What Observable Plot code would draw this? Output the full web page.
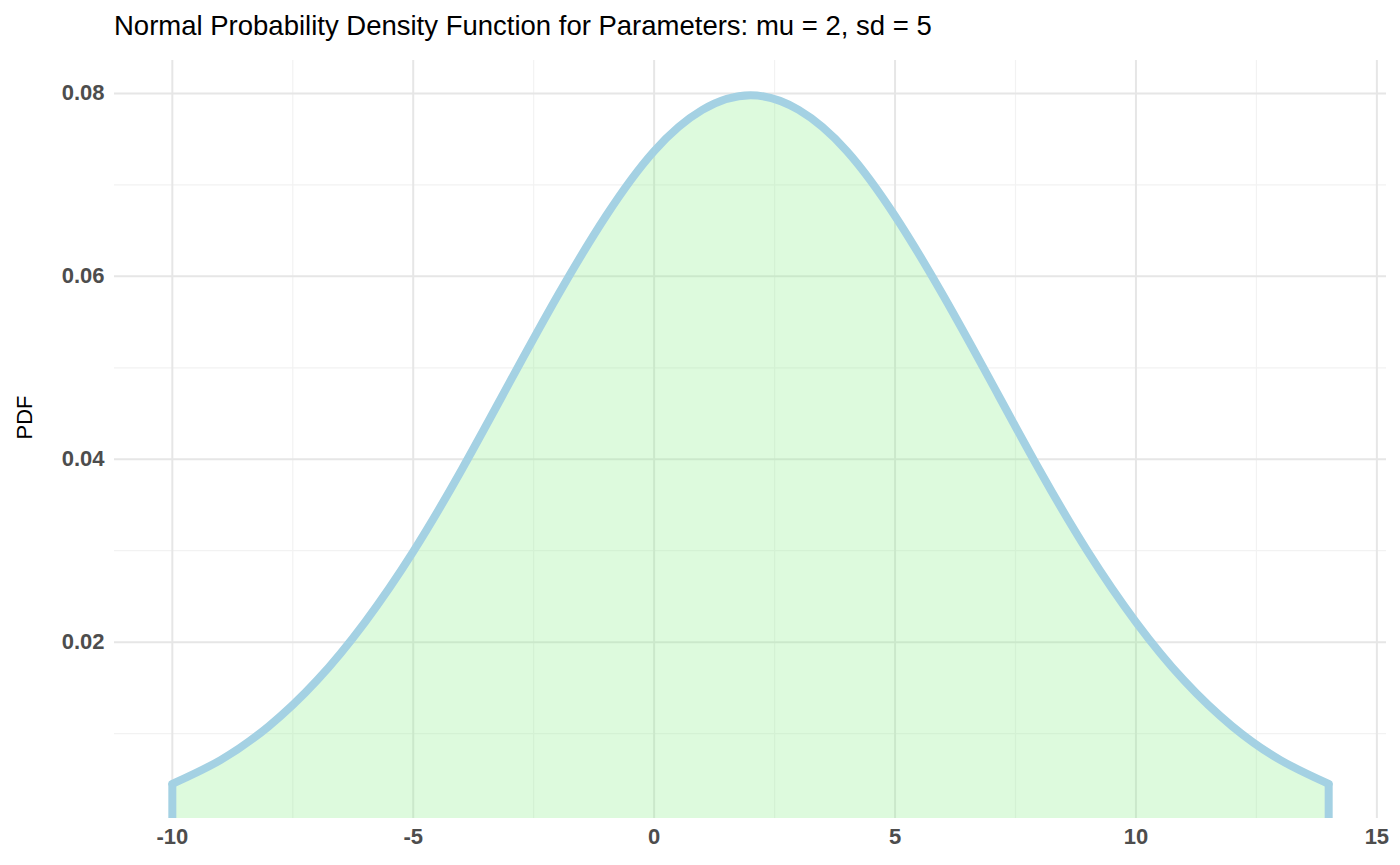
<!DOCTYPE html>
<html><head><meta charset="utf-8">
<script src="https://cdn.jsdelivr.net/npm/d3@7"></script>
<script src="https://cdn.jsdelivr.net/npm/@observablehq/plot@0.6"></script>
<style>
body{margin:0;background:#fff;font-family:"Liberation Sans",Arial,sans-serif}
#title{height:45px;padding-left:114px;font-size:27.5px;line-height:52px;color:#000}
</style></head><body>
<div id="title">Normal Probability Density Function for Parameters: mu = 2, sd = 5</div>
<div id="chart"></div>
<script>
// values
const xs  = [-10,-9,-8,-7,-6,-5,-4,-3,-2,-1,0,1,2,3,4,5,6,7,8,9,10,11,12,13,14];
const pdf = [0.0045,0.0071,0.0108,0.0158,0.0222,0.0299,0.0388,0.0484,0.0579,0.0666,0.0737,0.0782,0.0798,
             0.0782,0.0737,0.0666,0.0579,0.0484,0.0388,0.0299,0.0222,0.0158,0.0108,0.0071,0.0045];
const xTicks = [-10,-5,0,5,10,15];
const xMinor = [-7.5,-2.5,2.5,7.5,12.5];
const yTicks = [0.02,0.04,0.06,0.08];
const yMinor = [0.01,0.03,0.05,0.07];
const yLo = 0.00072, yHi = 0.0836;

const data = xs.map((x,i) => ({x, y: pdf[i]}));
const ends = [data[0], data[data.length-1]];

document.getElementById("chart").appendChild(Plot.plot({
  width: 1400, height: 820,
  marginLeft: 114, marginRight: 14, marginTop: 15, marginBottom: 47,
  style: {fontFamily: "Liberation Sans, Arial, sans-serif"},
  x: {domain: [-11.2, 15.2], label: null},
  y: {domain: [yLo, yHi], label: null},
  marks: [
    Plot.ruleX(xMinor, {stroke: "#f2f2f2", strokeWidth: 1.2}),
    Plot.ruleY(yMinor, {stroke: "#f2f2f2", strokeWidth: 1.2}),
    Plot.ruleX(xTicks, {stroke: "#e6e6e6", strokeWidth: 2}),
    Plot.ruleY(yTicks, {stroke: "#e6e6e6", strokeWidth: 2}),
    Plot.areaY(data, {x: "x", y1: yLo, y2: "y", fill: "#90ee90", fillOpacity: 0.3, curve: "natural"}),
    Plot.ruleX(ends, {x: "x", y1: yLo, y2: "y", stroke: "#a4d1e3", strokeWidth: 8}),
    Plot.line(data, {x: "x", y: "y", stroke: "#a4d1e3", strokeWidth: 8, curve: "natural"}),
    Plot.axisX(xTicks, {tickSize: 0, tickPadding: 10, fontSize: 22, fontWeight: "bold", fill: "#4d4d4d", label: null, tickFormat: d => String(d)}),
    Plot.axisY(yTicks, {tickSize: 0, tickPadding: 10, fontSize: 22, fontWeight: "bold", fill: "#4d4d4d", label: null, tickFormat: d3.format(".2f")}),
    Plot.text(["PDF"], {frameAnchor: "left", dx: -90, rotate: -90, fontSize: 22, fill: "#000"})
  ]
}));
</script>
</body></html>
